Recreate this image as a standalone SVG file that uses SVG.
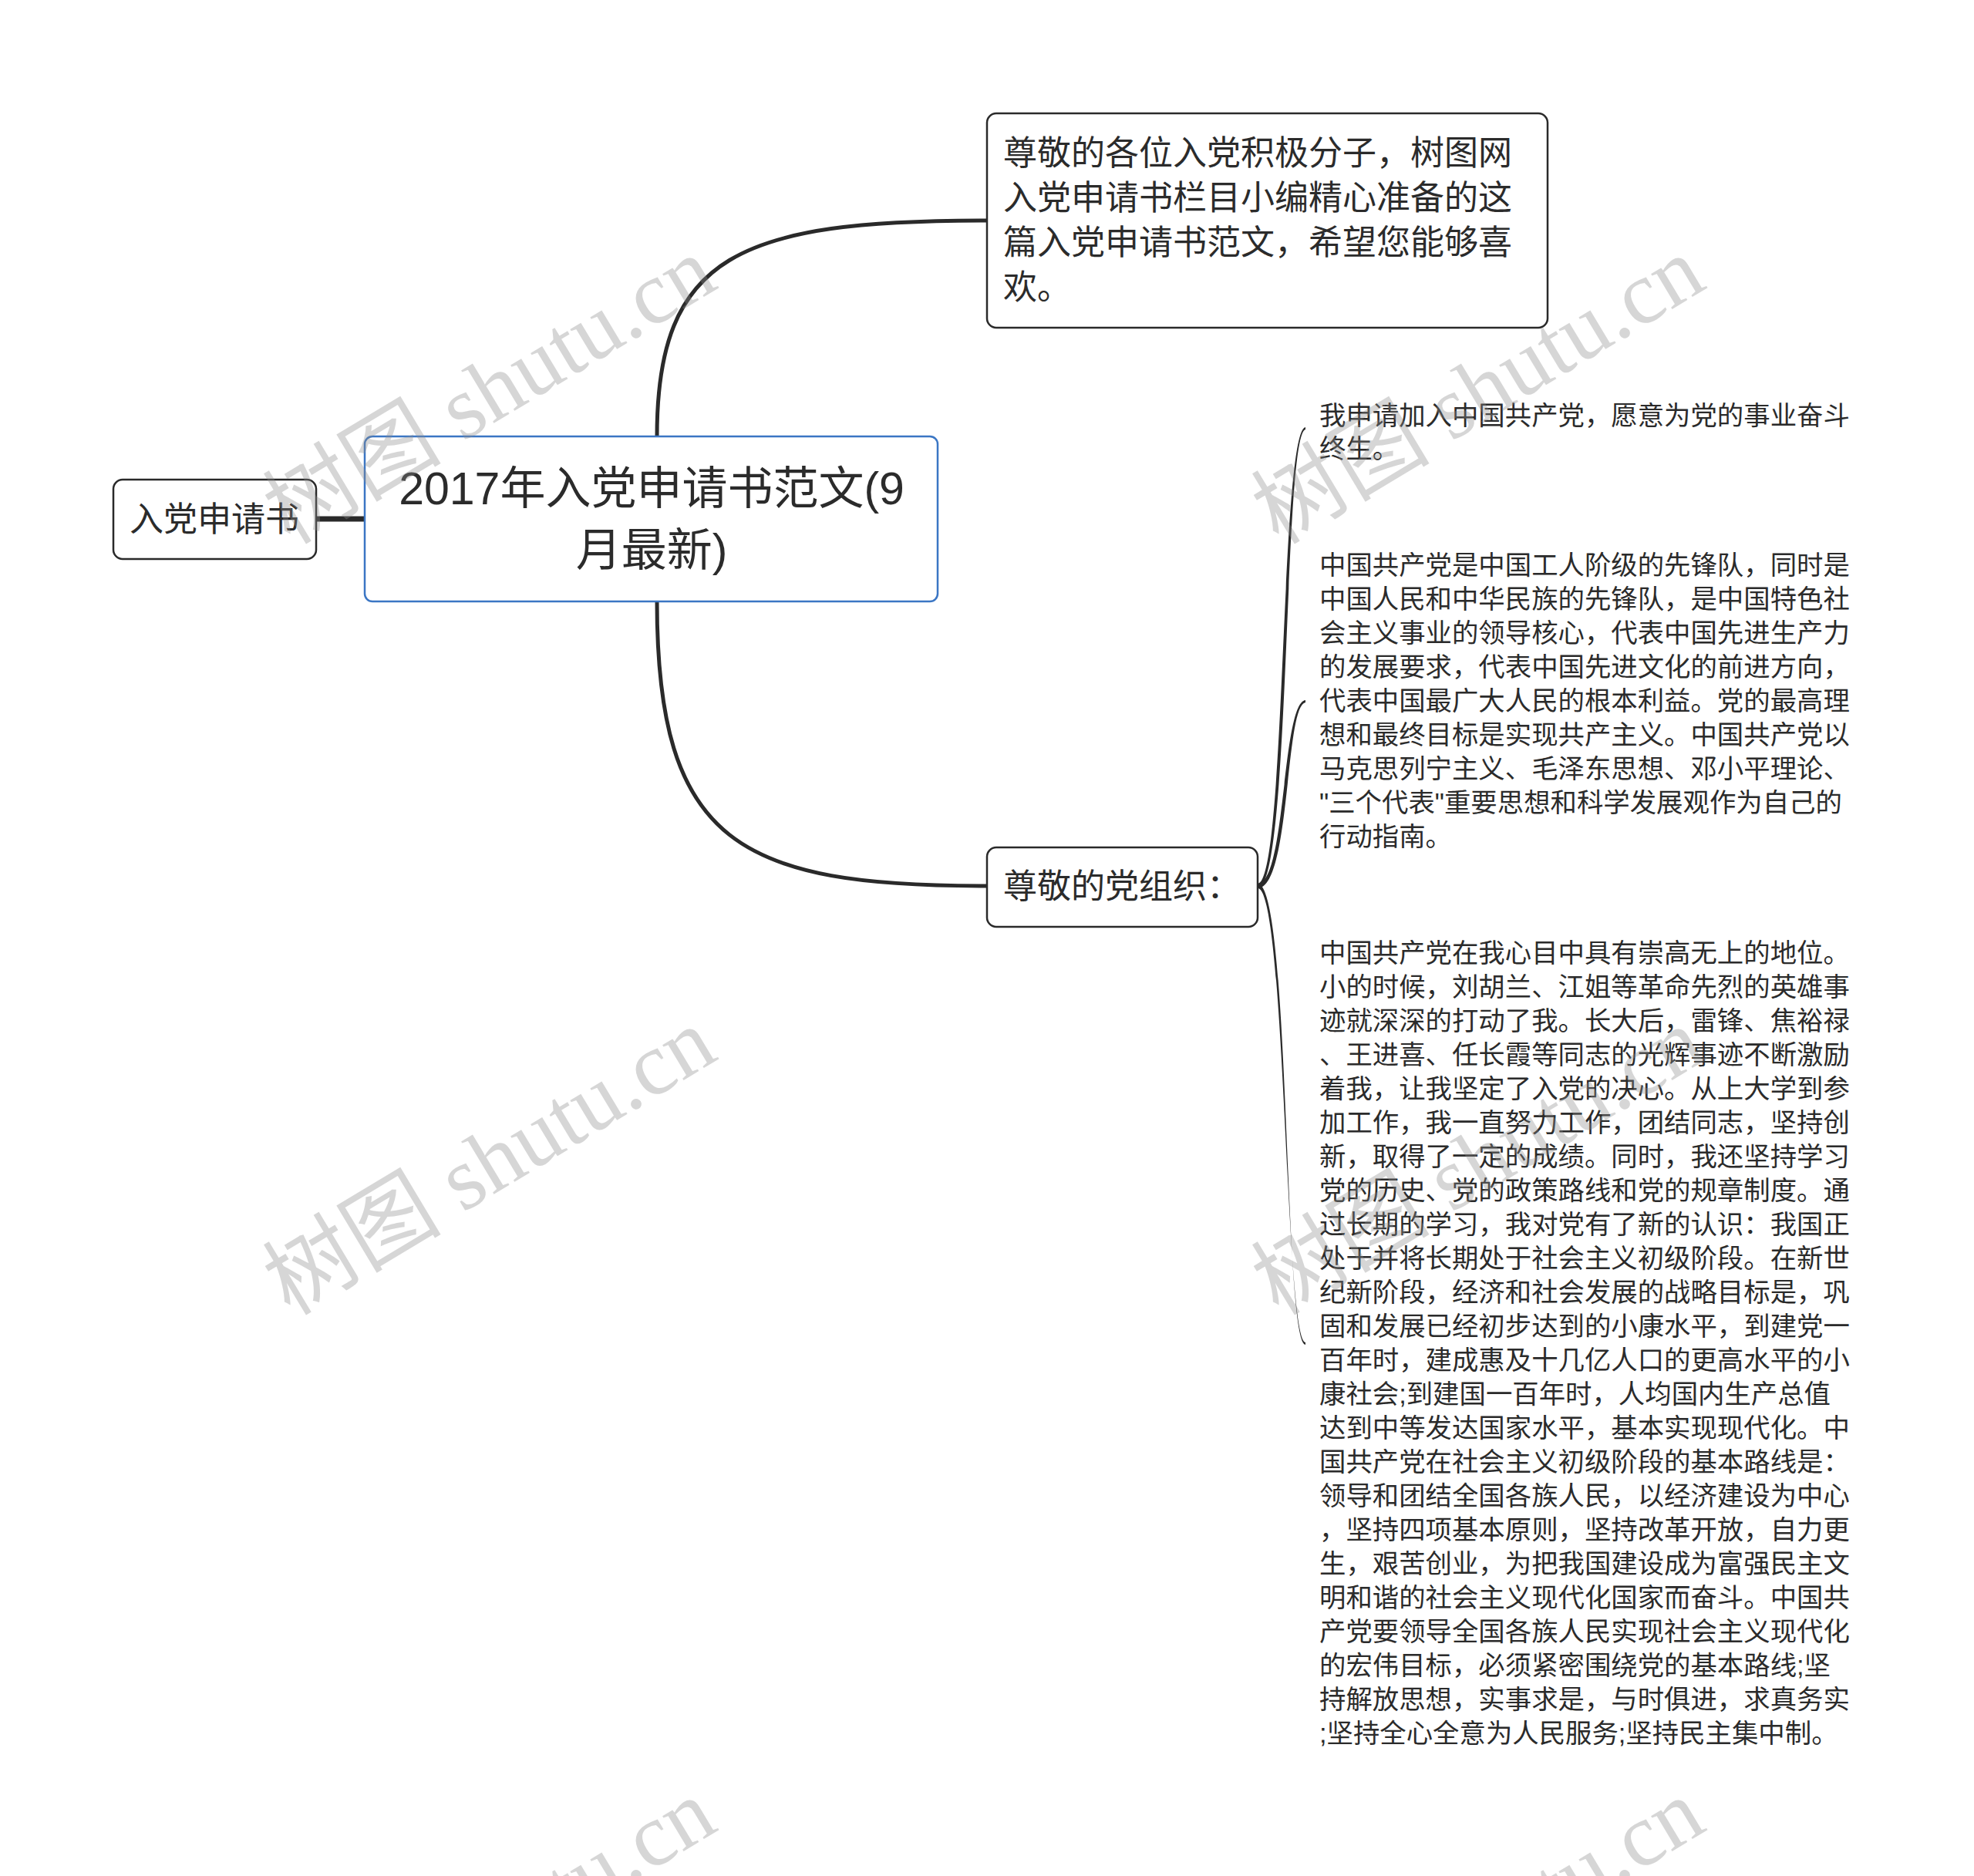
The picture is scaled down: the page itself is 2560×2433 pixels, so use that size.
<svg xmlns="http://www.w3.org/2000/svg" width="2560" height="2433" viewBox="0 0 2560 2433">
<style>
.bg{fill:#ffffff}
.node{fill:#ffffff;stroke:#2a2a2a;stroke-width:2.5}
.root{fill:#ffffff;stroke:#3b76c4;stroke-width:2.5}
.t{font-family:"Liberation Sans","Noto Sans CJK SC",sans-serif;fill:#2b2b2b}
.link{fill:none;stroke:#2a2a2a;stroke-width:5;stroke-linecap:round}
.brace{fill:#2a2a2a;stroke:none}
.wm{font-family:"Liberation Serif","Noto Sans CJK SC",serif;font-size:116px;fill:#8c8c8c;opacity:0.35}
</style>
<rect class="bg" x="0" y="0" width="2560" height="2433"/>

<g id="connectors">
  <path class="link" d="M410 673 L473 673" style="stroke-width:7;stroke-linecap:butt"/>
  <path class="link" d="M852 566 C852 330 960 286 1280 286"/>
  <path class="link" d="M852 780 C852 1095 960 1149 1280 1149"/>
  <path class="brace" d="M1631 1146 C1668 1146 1660 560 1693 554 L1693 557 C1664 563 1674 1152 1631 1152 Z"/>
  <path class="brace" d="M1631 1146 C1668 1146 1662 912 1693 908 L1693 911 C1666 915 1674 1152 1631 1152 Z"/>
  <path class="brace" d="M1631 1146 C1674 1146 1664 1740 1693 1744 L1693 1741 C1666 1737 1668 1152 1631 1152 Z"/>
</g>

<g id="node-left">
  <rect class="node" x="147" y="622" width="263" height="103" rx="12"/>
  <text class="t" x="278" y="689" font-size="44" text-anchor="middle">入党申请书</text>
</g>

<g id="node-root">
  <rect class="root" x="473" y="566" width="743" height="214" rx="10"/>
  <text class="t" x="845" y="654" font-size="59" text-anchor="middle">2017年入党申请书范文(9</text>
  <text class="t" x="845" y="734" font-size="59" text-anchor="middle">月最新)</text>
</g>

<g id="node-intro">
  <rect class="node" x="1280" y="147" width="727" height="278" rx="12"/>
  <text class="t" font-size="44">
    <tspan x="1301" y="214">尊敬的各位入党积极分子，树图网</tspan>
    <tspan x="1301" y="272">入党申请书栏目小编精心准备的这</tspan>
    <tspan x="1301" y="330">篇入党申请书范文，希望您能够喜</tspan>
    <tspan x="1301" y="388">欢。</tspan>
  </text>
</g>

<g id="node-org">
  <rect class="node" x="1280" y="1099" width="351" height="103" rx="12"/>
  <text class="t" x="1301" y="1165" font-size="44">尊敬的党组织：</text>
</g>

<g id="leaf-1">
  <text class="t" font-size="34.4">
    <tspan x="1711" y="551">我申请加入中国共产党，愿意为党的事业奋斗</tspan>
    <tspan x="1711" y="594">终生。</tspan>
  </text>
</g>

<g id="leaf-2">
  <text class="t" font-size="34.4">
    <tspan x="1711" y="745">中国共产党是中国工人阶级的先锋队，同时是</tspan>
    <tspan x="1711" y="789">中国人民和中华民族的先锋队，是中国特色社</tspan>
    <tspan x="1711" y="833">会主义事业的领导核心，代表中国先进生产力</tspan>
    <tspan x="1711" y="877">的发展要求，代表中国先进文化的前进方向，</tspan>
    <tspan x="1711" y="921">代表中国最广大人民的根本利益。党的最高理</tspan>
    <tspan x="1711" y="965">想和最终目标是实现共产主义。中国共产党以</tspan>
    <tspan x="1711" y="1009">马克思列宁主义、毛泽东思想、邓小平理论、</tspan>
    <tspan x="1711" y="1053">"三个代表"重要思想和科学发展观作为自己的</tspan>
    <tspan x="1711" y="1097">行动指南。</tspan>
  </text>
</g>

<g id="leaf-3">
  <text class="t" font-size="34.4">
    <tspan x="1711" y="1248">中国共产党在我心目中具有崇高无上的地位。</tspan>
    <tspan x="1711" y="1292">小的时候，刘胡兰、江姐等革命先烈的英雄事</tspan>
    <tspan x="1711" y="1336">迹就深深的打动了我。长大后，雷锋、焦裕禄</tspan>
    <tspan x="1711" y="1380">、王进喜、任长霞等同志的光辉事迹不断激励</tspan>
    <tspan x="1711" y="1424">着我，让我坚定了入党的决心。从上大学到参</tspan>
    <tspan x="1711" y="1468">加工作，我一直努力工作，团结同志，坚持创</tspan>
    <tspan x="1711" y="1512">新，取得了一定的成绩。同时，我还坚持学习</tspan>
    <tspan x="1711" y="1556">党的历史、党的政策路线和党的规章制度。通</tspan>
    <tspan x="1711" y="1600">过长期的学习，我对党有了新的认识：我国正</tspan>
    <tspan x="1711" y="1644">处于并将长期处于社会主义初级阶段。在新世</tspan>
    <tspan x="1711" y="1688">纪新阶段，经济和社会发展的战略目标是，巩</tspan>
    <tspan x="1711" y="1732">固和发展已经初步达到的小康水平，到建党一</tspan>
    <tspan x="1711" y="1776">百年时，建成惠及十几亿人口的更高水平的小</tspan>
    <tspan x="1711" y="1820">康社会;到建国一百年时，人均国内生产总值</tspan>
    <tspan x="1711" y="1864">达到中等发达国家水平，基本实现现代化。中</tspan>
    <tspan x="1711" y="1908">国共产党在社会主义初级阶段的基本路线是：</tspan>
    <tspan x="1711" y="1952">领导和团结全国各族人民，以经济建设为中心</tspan>
    <tspan x="1711" y="1996">，坚持四项基本原则，坚持改革开放，自力更</tspan>
    <tspan x="1711" y="2040">生，艰苦创业，为把我国建设成为富强民主文</tspan>
    <tspan x="1711" y="2084">明和谐的社会主义现代化国家而奋斗。中国共</tspan>
    <tspan x="1711" y="2128">产党要领导全国各族人民实现社会主义现代化</tspan>
    <tspan x="1711" y="2172">的宏伟目标，必须紧密围绕党的基本路线;坚</tspan>
    <tspan x="1711" y="2216">持解放思想，实事求是，与时俱进，求真务实</tspan>
    <tspan x="1711" y="2260">;坚持全心全意为人民服务;坚持民主集中制。</tspan>
  </text>
</g>

<g id="watermarks">
  <text class="wm" text-anchor="middle" transform="translate(655 540) rotate(-31)">树图 shutu.cn</text>
  <text class="wm" text-anchor="middle" transform="translate(655 1540) rotate(-31)">树图 shutu.cn</text>
  <text class="wm" text-anchor="middle" transform="translate(655 2540) rotate(-31)">树图 shutu.cn</text>
  <text class="wm" text-anchor="middle" transform="translate(1937 540) rotate(-31)">树图 shutu.cn</text>
  <text class="wm" text-anchor="middle" transform="translate(1937 1540) rotate(-31)">树图 shutu.cn</text>
  <text class="wm" text-anchor="middle" transform="translate(1937 2540) rotate(-31)">树图 shutu.cn</text>
</g>
</svg>
